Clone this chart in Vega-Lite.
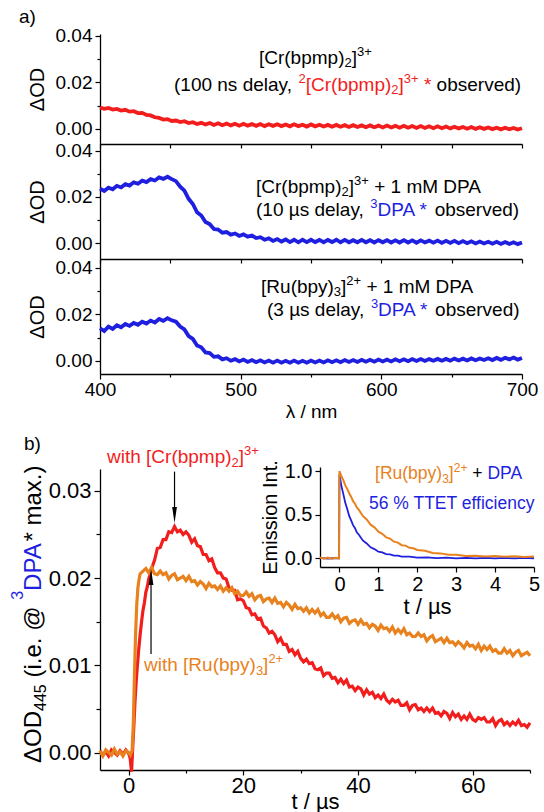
{
"$schema":"https://vega.github.io/schema/vega-lite/v6.json",
"padding":{"left":10,"top":7,"right":0,"bottom":0},
"background":"white",
"config":{"font":"Liberation Sans","view":{"stroke":null},
 "axis":{"grid":false,"domainColor":"#000","tickColor":"#000","labelColor":"#000","titleColor":"#000","domainWidth":1.3,"tickWidth":1.2,"titleFontWeight":"normal","labelFont":"Liberation Sans","titleFont":"Liberation Sans","labelFlush":false,"labelOverlap":false}},
"datasets":{
"a1":[{"x":400,"y":0.0092},{"x":403,"y":0.0086},{"x":406,"y":0.0090},{"x":409,"y":0.0083},{"x":412,"y":0.0086},{"x":415,"y":0.0079},{"x":418,"y":0.0082},{"x":421,"y":0.0074},{"x":424,"y":0.0076},{"x":427,"y":0.0068},{"x":430,"y":0.0069},{"x":433,"y":0.0060},{"x":436,"y":0.0058},{"x":439,"y":0.0050},{"x":442,"y":0.0047},{"x":445,"y":0.0040},{"x":448,"y":0.0042},{"x":451,"y":0.0034},{"x":454,"y":0.0036},{"x":457,"y":0.0029},{"x":460,"y":0.0033},{"x":463,"y":0.0025},{"x":466,"y":0.0029},{"x":469,"y":0.0021},{"x":472,"y":0.0026},{"x":475,"y":0.0019},{"x":478,"y":0.0025},{"x":481,"y":0.0017},{"x":484,"y":0.0024},{"x":487,"y":0.0016},{"x":490,"y":0.0023},{"x":493,"y":0.0015},{"x":496,"y":0.0022},{"x":499,"y":0.0014},{"x":502,"y":0.0022},{"x":505,"y":0.0014},{"x":508,"y":0.0021},{"x":511,"y":0.0013},{"x":514,"y":0.0021},{"x":517,"y":0.0012},{"x":520,"y":0.0020},{"x":523,"y":0.0013},{"x":526,"y":0.0020},{"x":529,"y":0.0012},{"x":532,"y":0.0019},{"x":535,"y":0.0011},{"x":538,"y":0.0020},{"x":541,"y":0.0012},{"x":544,"y":0.0018},{"x":547,"y":0.0010},{"x":550,"y":0.0019},{"x":553,"y":0.0011},{"x":556,"y":0.0018},{"x":559,"y":0.0010},{"x":562,"y":0.0017},{"x":565,"y":0.0009},{"x":568,"y":0.0017},{"x":571,"y":0.0009},{"x":574,"y":0.0016},{"x":577,"y":0.0008},{"x":580,"y":0.0016},{"x":583,"y":0.0008},{"x":586,"y":0.0015},{"x":589,"y":0.0007},{"x":592,"y":0.0015},{"x":595,"y":0.0007},{"x":598,"y":0.0014},{"x":601,"y":0.0006},{"x":604,"y":0.0014},{"x":607,"y":0.0006},{"x":610,"y":0.0013},{"x":613,"y":0.0005},{"x":616,"y":0.0013},{"x":619,"y":0.0005},{"x":622,"y":0.0012},{"x":625,"y":0.0004},{"x":628,"y":0.0012},{"x":631,"y":0.0004},{"x":634,"y":0.0011},{"x":637,"y":0.0003},{"x":640,"y":0.0011},{"x":643,"y":0.0003},{"x":646,"y":0.0010},{"x":649,"y":0.0002},{"x":652,"y":0.0009},{"x":655,"y":0.0002},{"x":658,"y":0.0008},{"x":661,"y":0.0001},{"x":664,"y":0.0008},{"x":667,"y":0.0000},{"x":670,"y":0.0007},{"x":673,"y":0.0000},{"x":676,"y":0.0006},{"x":679,"y":-0.0001},{"x":682,"y":0.0005},{"x":685,"y":-0.0002},{"x":688,"y":0.0005},{"x":691,"y":-0.0002},{"x":694,"y":0.0004},{"x":697,"y":-0.0003},{"x":700,"y":0.0003}],
"a2":[{"x":400,"y":0.0236},{"x":403,"y":0.0226},{"x":406,"y":0.0240},{"x":409,"y":0.0233},{"x":412,"y":0.0248},{"x":415,"y":0.0241},{"x":418,"y":0.0255},{"x":421,"y":0.0249},{"x":424,"y":0.0263},{"x":427,"y":0.0257},{"x":430,"y":0.0270},{"x":433,"y":0.0264},{"x":436,"y":0.0277},{"x":439,"y":0.0271},{"x":442,"y":0.0284},{"x":445,"y":0.0278},{"x":448,"y":0.0287},{"x":451,"y":0.0277},{"x":454,"y":0.0268},{"x":457,"y":0.0244},{"x":460,"y":0.0227},{"x":463,"y":0.0192},{"x":466,"y":0.0170},{"x":469,"y":0.0134},{"x":472,"y":0.0120},{"x":475,"y":0.0092},{"x":478,"y":0.0083},{"x":481,"y":0.0062},{"x":484,"y":0.0060},{"x":487,"y":0.0046},{"x":490,"y":0.0049},{"x":493,"y":0.0038},{"x":496,"y":0.0043},{"x":499,"y":0.0032},{"x":502,"y":0.0039},{"x":505,"y":0.0029},{"x":508,"y":0.0034},{"x":511,"y":0.0023},{"x":514,"y":0.0027},{"x":517,"y":0.0016},{"x":520,"y":0.0022},{"x":523,"y":0.0011},{"x":526,"y":0.0019},{"x":529,"y":0.0008},{"x":532,"y":0.0017},{"x":535,"y":0.0006},{"x":538,"y":0.0016},{"x":541,"y":0.0005},{"x":544,"y":0.0016},{"x":547,"y":0.0006},{"x":550,"y":0.0016},{"x":553,"y":0.0006},{"x":556,"y":0.0015},{"x":559,"y":0.0005},{"x":562,"y":0.0015},{"x":565,"y":0.0006},{"x":568,"y":0.0016},{"x":571,"y":0.0005},{"x":574,"y":0.0015},{"x":577,"y":0.0005},{"x":580,"y":0.0014},{"x":583,"y":0.0005},{"x":586,"y":0.0015},{"x":589,"y":0.0005},{"x":592,"y":0.0014},{"x":595,"y":0.0004},{"x":598,"y":0.0014},{"x":601,"y":0.0005},{"x":604,"y":0.0014},{"x":607,"y":0.0004},{"x":610,"y":0.0013},{"x":613,"y":0.0004},{"x":616,"y":0.0014},{"x":619,"y":0.0004},{"x":622,"y":0.0013},{"x":625,"y":0.0003},{"x":628,"y":0.0013},{"x":631,"y":0.0004},{"x":634,"y":0.0012},{"x":637,"y":0.0003},{"x":640,"y":0.0012},{"x":643,"y":0.0002},{"x":646,"y":0.0011},{"x":649,"y":0.0002},{"x":652,"y":0.0011},{"x":655,"y":0.0001},{"x":658,"y":0.0010},{"x":661,"y":0.0001},{"x":664,"y":0.0009},{"x":667,"y":0.0000},{"x":670,"y":0.0008},{"x":673,"y":0.0000},{"x":676,"y":0.0007},{"x":679,"y":-0.0001},{"x":682,"y":0.0007},{"x":685,"y":-0.0002},{"x":688,"y":0.0006},{"x":691,"y":-0.0002},{"x":694,"y":0.0005},{"x":697,"y":-0.0003},{"x":700,"y":0.0004}],
"a3":[{"x":400,"y":0.0140},{"x":403,"y":0.0128},{"x":406,"y":0.0147},{"x":409,"y":0.0137},{"x":412,"y":0.0153},{"x":415,"y":0.0144},{"x":418,"y":0.0158},{"x":421,"y":0.0150},{"x":424,"y":0.0163},{"x":427,"y":0.0155},{"x":430,"y":0.0168},{"x":433,"y":0.0160},{"x":436,"y":0.0173},{"x":439,"y":0.0165},{"x":442,"y":0.0180},{"x":445,"y":0.0172},{"x":448,"y":0.0183},{"x":451,"y":0.0174},{"x":454,"y":0.0168},{"x":457,"y":0.0147},{"x":460,"y":0.0135},{"x":463,"y":0.0106},{"x":466,"y":0.0094},{"x":469,"y":0.0066},{"x":472,"y":0.0058},{"x":475,"y":0.0036},{"x":478,"y":0.0033},{"x":481,"y":0.0017},{"x":484,"y":0.0019},{"x":487,"y":0.0006},{"x":490,"y":0.0011},{"x":493,"y":0.0000},{"x":496,"y":0.0007},{"x":499,"y":-0.0003},{"x":502,"y":0.0005},{"x":505,"y":-0.0005},{"x":508,"y":0.0003},{"x":511,"y":-0.0006},{"x":514,"y":0.0002},{"x":517,"y":-0.0007},{"x":520,"y":0.0001},{"x":523,"y":-0.0008},{"x":526,"y":0.0001},{"x":529,"y":-0.0008},{"x":532,"y":0.0000},{"x":535,"y":-0.0008},{"x":538,"y":0.0001},{"x":541,"y":-0.0008},{"x":544,"y":0.0000},{"x":547,"y":-0.0008},{"x":550,"y":0.0001},{"x":553,"y":-0.0007},{"x":556,"y":0.0001},{"x":559,"y":-0.0007},{"x":562,"y":0.0002},{"x":565,"y":-0.0006},{"x":568,"y":0.0002},{"x":571,"y":-0.0006},{"x":574,"y":0.0003},{"x":577,"y":-0.0005},{"x":580,"y":0.0003},{"x":583,"y":-0.0005},{"x":586,"y":0.0004},{"x":589,"y":-0.0004},{"x":592,"y":0.0004},{"x":595,"y":-0.0004},{"x":598,"y":0.0005},{"x":601,"y":-0.0003},{"x":604,"y":0.0005},{"x":607,"y":-0.0003},{"x":610,"y":0.0006},{"x":613,"y":-0.0002},{"x":616,"y":0.0006},{"x":619,"y":-0.0002},{"x":622,"y":0.0007},{"x":625,"y":-0.0001},{"x":628,"y":0.0007},{"x":631,"y":-0.0001},{"x":634,"y":0.0007},{"x":637,"y":0.0000},{"x":640,"y":0.0008},{"x":643,"y":0.0000},{"x":646,"y":0.0008},{"x":649,"y":0.0000},{"x":652,"y":0.0009},{"x":655,"y":0.0001},{"x":658,"y":0.0009},{"x":661,"y":0.0001},{"x":664,"y":0.0010},{"x":667,"y":0.0002},{"x":670,"y":0.0010},{"x":673,"y":0.0003},{"x":676,"y":0.0011},{"x":679,"y":0.0003},{"x":682,"y":0.0012},{"x":685,"y":0.0004},{"x":688,"y":0.0013},{"x":691,"y":0.0006},{"x":694,"y":0.0014},{"x":697,"y":0.0005},{"x":700,"y":0.0012}],
"bR":[{"x":-5,"y":0.0002},{"x":-4.5,"y":-0.0003},{"x":-4,"y":0.0001},{"x":-3.5,"y":-0.0004},{"x":-3,"y":0.0003},{"x":-2.5,"y":0.0000},{"x":-2,"y":-0.0003},{"x":-1.5,"y":0.0002},{"x":-1,"y":-0.0002},{"x":-0.5,"y":0.0003},{"x":0,"y":-0.0001},{"x":0.25,"y":-0.0006},{"x":0.5,"y":-0.0022},{"x":0.7,"y":0.0005},{"x":0.9,"y":0.0030},{"x":1.1,"y":0.0058},{"x":1.3,"y":0.0080},{"x":1.5,"y":0.0098},{"x":1.75,"y":0.0118},{"x":2,"y":0.0135},{"x":2.25,"y":0.0150},{"x":2.5,"y":0.0163},{"x":2.75,"y":0.0172},{"x":3,"y":0.0184},{"x":3.25,"y":0.0190},{"x":3.5,"y":0.0199},{"x":3.75,"y":0.0204},{"x":4,"y":0.0211},{"x":4.5,"y":0.0220},
{"x":5.0,"y":0.0234},{"x":5.5,"y":0.0235},{"x":6.0,"y":0.0244},{"x":6.5,"y":0.0244},{"x":7.0,"y":0.0253},{"x":7.5,"y":0.0252},{"x":8.0,"y":0.0259},{"x":8.5,"y":0.0253},{"x":9.0,"y":0.0255},{"x":9.5,"y":0.0250},{"x":10.0,"y":0.0253},{"x":10.5,"y":0.0249},{"x":11.0,"y":0.0241},{"x":11.5,"y":0.0245},{"x":12.0,"y":0.0237},{"x":12.5,"y":0.0236},{"x":13.0,"y":0.0227},{"x":13.5,"y":0.0227},{"x":14.0,"y":0.0220},{"x":14.5,"y":0.0222},{"x":15.0,"y":0.0212},{"x":15.5,"y":0.0206},{"x":16.0,"y":0.0206},{"x":16.5,"y":0.0200},{"x":17.0,"y":0.0199},{"x":17.5,"y":0.0189},{"x":18.0,"y":0.0186},{"x":18.5,"y":0.0186},{"x":19.0,"y":0.0175},{"x":19.5,"y":0.0176},{"x":20.0,"y":0.0174},{"x":20.5,"y":0.0166},{"x":21.0,"y":0.0165},{"x":21.5,"y":0.0158},{"x":22.0,"y":0.0159},{"x":22.5,"y":0.0153},{"x":23.0,"y":0.0154},{"x":23.5,"y":0.0145},{"x":24.0,"y":0.0143},{"x":24.5,"y":0.0137},{"x":25.0,"y":0.0139},{"x":25.5,"y":0.0135},{"x":26.0,"y":0.0127},{"x":26.5,"y":0.0131},{"x":27.0,"y":0.0124},{"x":27.5,"y":0.0124},{"x":28.0,"y":0.0116},{"x":28.5,"y":0.0118},{"x":29.0,"y":0.0112},{"x":29.5,"y":0.0116},{"x":30.0,"y":0.0108},{"x":30.5,"y":0.0104},{"x":31.0,"y":0.0107},{"x":31.5,"y":0.0102},{"x":32.0,"y":0.0103},{"x":32.5,"y":0.0096},{"x":33.0,"y":0.0095},{"x":33.5,"y":0.0097},{"x":34.0,"y":0.0088},{"x":34.5,"y":0.0091},{"x":35.0,"y":0.0091},{"x":35.5,"y":0.0085},{"x":36.0,"y":0.0086},{"x":36.5,"y":0.0080},{"x":37.0,"y":0.0084},{"x":37.5,"y":0.0079},{"x":38.0,"y":0.0083},{"x":38.5,"y":0.0075},{"x":39.0,"y":0.0076},{"x":39.5,"y":0.0071},{"x":40.0,"y":0.0075},{"x":40.5,"y":0.0073},{"x":41.0,"y":0.0066},{"x":41.5,"y":0.0072},{"x":42.0,"y":0.0067},{"x":42.5,"y":0.0069},{"x":43.0,"y":0.0063},{"x":43.5,"y":0.0066},{"x":44.0,"y":0.0062},{"x":44.5,"y":0.0067},{"x":45.0,"y":0.0060},{"x":45.5,"y":0.0057},{"x":46.0,"y":0.0061},{"x":46.5,"y":0.0058},{"x":47.0,"y":0.0060},{"x":47.5,"y":0.0054},{"x":48.0,"y":0.0054},{"x":48.5,"y":0.0057},{"x":49.0,"y":0.0049},{"x":49.5,"y":0.0054},{"x":50.0,"y":0.0055},{"x":50.5,"y":0.0049},{"x":51.0,"y":0.0051},{"x":51.5,"y":0.0047},{"x":52.0,"y":0.0051},{"x":52.5,"y":0.0047},{"x":53.0,"y":0.0051},{"x":53.5,"y":0.0045},{"x":54.0,"y":0.0046},{"x":54.5,"y":0.0042},{"x":55.0,"y":0.0047},{"x":55.5,"y":0.0045},{"x":56.0,"y":0.0039},{"x":56.5,"y":0.0046},{"x":57.0,"y":0.0041},{"x":57.5,"y":0.0044},{"x":58.0,"y":0.0038},{"x":58.5,"y":0.0042},{"x":59.0,"y":0.0038},{"x":59.5,"y":0.0044},{"x":60.0,"y":0.0038},{"x":60.5,"y":0.0036},{"x":61.0,"y":0.0040},{"x":61.5,"y":0.0038},{"x":62.0,"y":0.0040},{"x":62.5,"y":0.0035},{"x":63.0,"y":0.0035},{"x":63.5,"y":0.0039},{"x":64.0,"y":0.0031},{"x":64.5,"y":0.0036},{"x":65.0,"y":0.0038},{"x":65.5,"y":0.0032},{"x":66.0,"y":0.0035},{"x":66.5,"y":0.0031},{"x":67.0,"y":0.0035},{"x":67.5,"y":0.0032},{"x":68.0,"y":0.0037},{"x":68.5,"y":0.0031},{"x":69.0,"y":0.0032},{"x":69.5,"y":0.0029},{"x":70.0,"y":0.0034}],
"bO":[{"x":-5,"y":0.0002},{"x":-4.5,"y":-0.0004},{"x":-4,"y":0.0003},{"x":-3.5,"y":0.0000},{"x":-3,"y":-0.0003},{"x":-2.5,"y":0.0004},{"x":-2,"y":-0.0002},{"x":-1.5,"y":0.0001},{"x":-1,"y":-0.0004},{"x":-0.5,"y":0.0002},{"x":0,"y":0.0000},{"x":0.3,"y":-0.0003},{"x":0.6,"y":0.0002},{"x":0.8,"y":0.0030},{"x":1.0,"y":0.0085},{"x":1.2,"y":0.0135},{"x":1.4,"y":0.0168},{"x":1.6,"y":0.0188},{"x":1.8,"y":0.0198},{"x":2.0,"y":0.0205},{"x":2.5,"y":0.0208},{"x":3,"y":0.0211},{"x":3.5,"y":0.0206},{"x":4,"y":0.0212},{"x":4.5,"y":0.0205},
{"x":5.0,"y":0.0204},{"x":5.5,"y":0.0208},{"x":6.0,"y":0.0204},{"x":6.5,"y":0.0206},{"x":7.0,"y":0.0199},{"x":7.5,"y":0.0203},{"x":8.0,"y":0.0205},{"x":8.5,"y":0.0198},{"x":9.0,"y":0.0200},{"x":9.5,"y":0.0202},{"x":10.0,"y":0.0197},{"x":10.5,"y":0.0202},{"x":11.0,"y":0.0196},{"x":11.5,"y":0.0197},{"x":12.0,"y":0.0192},{"x":12.5,"y":0.0196},{"x":13.0,"y":0.0193},{"x":13.5,"y":0.0188},{"x":14.0,"y":0.0194},{"x":14.5,"y":0.0190},{"x":15.0,"y":0.0191},{"x":15.5,"y":0.0187},{"x":16.0,"y":0.0191},{"x":16.5,"y":0.0185},{"x":17.0,"y":0.0189},{"x":17.5,"y":0.0185},{"x":18.0,"y":0.0189},{"x":18.5,"y":0.0182},{"x":19.0,"y":0.0185},{"x":19.5,"y":0.0180},{"x":20.0,"y":0.0180},{"x":20.5,"y":0.0184},{"x":21.0,"y":0.0179},{"x":21.5,"y":0.0182},{"x":22.0,"y":0.0175},{"x":22.5,"y":0.0179},{"x":23.0,"y":0.0180},{"x":23.5,"y":0.0173},{"x":24.0,"y":0.0176},{"x":24.5,"y":0.0177},{"x":25.0,"y":0.0172},{"x":25.5,"y":0.0177},{"x":26.0,"y":0.0171},{"x":26.5,"y":0.0172},{"x":27.0,"y":0.0167},{"x":27.5,"y":0.0172},{"x":28.0,"y":0.0169},{"x":28.5,"y":0.0164},{"x":29.0,"y":0.0170},{"x":29.5,"y":0.0165},{"x":30.0,"y":0.0166},{"x":30.5,"y":0.0162},{"x":31.0,"y":0.0166},{"x":31.5,"y":0.0160},{"x":32.0,"y":0.0164},{"x":32.5,"y":0.0160},{"x":33.0,"y":0.0164},{"x":33.5,"y":0.0157},{"x":34.0,"y":0.0160},{"x":34.5,"y":0.0155},{"x":35.0,"y":0.0155},{"x":35.5,"y":0.0159},{"x":36.0,"y":0.0154},{"x":36.5,"y":0.0157},{"x":37.0,"y":0.0150},{"x":37.5,"y":0.0154},{"x":38.0,"y":0.0155},{"x":38.5,"y":0.0148},{"x":39.0,"y":0.0151},{"x":39.5,"y":0.0152},{"x":40.0,"y":0.0147},{"x":40.5,"y":0.0152},{"x":41.0,"y":0.0147},{"x":41.5,"y":0.0148},{"x":42.0,"y":0.0143},{"x":42.5,"y":0.0147},{"x":43.0,"y":0.0145},{"x":43.5,"y":0.0140},{"x":44.0,"y":0.0146},{"x":44.5,"y":0.0142},{"x":45.0,"y":0.0143},{"x":45.5,"y":0.0139},{"x":46.0,"y":0.0144},{"x":46.5,"y":0.0137},{"x":47.0,"y":0.0141},{"x":47.5,"y":0.0137},{"x":48.0,"y":0.0142},{"x":48.5,"y":0.0135},{"x":49.0,"y":0.0137},{"x":49.5,"y":0.0133},{"x":50.0,"y":0.0133},{"x":50.5,"y":0.0137},{"x":51.0,"y":0.0133},{"x":51.5,"y":0.0135},{"x":52.0,"y":0.0128},{"x":52.5,"y":0.0132},{"x":53.0,"y":0.0134},{"x":53.5,"y":0.0127},{"x":54.0,"y":0.0129},{"x":54.5,"y":0.0131},{"x":55.0,"y":0.0126},{"x":55.5,"y":0.0131},{"x":56.0,"y":0.0126},{"x":56.5,"y":0.0127},{"x":57.0,"y":0.0123},{"x":57.5,"y":0.0127},{"x":58.0,"y":0.0124},{"x":58.5,"y":0.0120},{"x":59.0,"y":0.0126},{"x":59.5,"y":0.0122},{"x":60.0,"y":0.0123},{"x":60.5,"y":0.0119},{"x":61.0,"y":0.0124},{"x":61.5,"y":0.0117},{"x":62.0,"y":0.0122},{"x":62.5,"y":0.0118},{"x":63.0,"y":0.0122},{"x":63.5,"y":0.0116},{"x":64.0,"y":0.0118},{"x":64.5,"y":0.0114},{"x":65.0,"y":0.0114},{"x":65.5,"y":0.0119},{"x":66.0,"y":0.0114},{"x":66.5,"y":0.0117},{"x":67.0,"y":0.0111},{"x":67.5,"y":0.0115},{"x":68.0,"y":0.0117},{"x":68.5,"y":0.0111},{"x":69.0,"y":0.0113},{"x":69.5,"y":0.0115},{"x":70.0,"y":0.0111}],
"iO":[{"x":-0.5,"y":0.008},{"x":-0.4,"y":-0.006},{"x":-0.3,"y":0.007},{"x":-0.2,"y":-0.005},{"x":-0.1,"y":0.006},{"x":-0.01,"y":0.0},{"x":0,"y":1.0},{"x":0.05,"y":0.94},{"x":0.1,"y":0.895},{"x":0.15,"y":0.835},{"x":0.2,"y":0.795},{"x":0.25,"y":0.745},{"x":0.3,"y":0.705},{"x":0.35,"y":0.655},{"x":0.4,"y":0.625},{"x":0.45,"y":0.58},{"x":0.5,"y":0.555},{"x":0.6,"y":0.485},{"x":0.7,"y":0.445},{"x":0.8,"y":0.385},{"x":0.9,"y":0.355},{"x":1.0,"y":0.305},{"x":1.1,"y":0.28},{"x":1.2,"y":0.24},{"x":1.3,"y":0.225},{"x":1.4,"y":0.19},{"x":1.5,"y":0.18},{"x":1.6,"y":0.15},{"x":1.7,"y":0.145},{"x":1.8,"y":0.12},{"x":1.9,"y":0.115},{"x":2.0,"y":0.095},{"x":2.2,"y":0.085},{"x":2.4,"y":0.06},{"x":2.6,"y":0.056},{"x":2.8,"y":0.04},{"x":3.0,"y":0.04},{"x":3.25,"y":0.027},{"x":3.5,"y":0.03},{"x":3.75,"y":0.02},{"x":4.0,"y":0.025},{"x":4.25,"y":0.017},{"x":4.5,"y":0.023},{"x":4.75,"y":0.016},{"x":5.0,"y":0.021}],
"iB":[{"x":-0.5,"y":0.004},{"x":-0.3,"y":-0.004},{"x":-0.1,"y":0.003},{"x":-0.01,"y":0.0},{"x":0,"y":0.96},{"x":0.05,"y":0.83},{"x":0.1,"y":0.735},{"x":0.15,"y":0.635},{"x":0.2,"y":0.565},{"x":0.25,"y":0.485},{"x":0.3,"y":0.435},{"x":0.35,"y":0.38},{"x":0.4,"y":0.345},{"x":0.45,"y":0.295},{"x":0.5,"y":0.27},{"x":0.6,"y":0.205},{"x":0.7,"y":0.17},{"x":0.8,"y":0.125},{"x":0.9,"y":0.105},{"x":1.0,"y":0.075},{"x":1.1,"y":0.068},{"x":1.2,"y":0.048},{"x":1.3,"y":0.044},{"x":1.4,"y":0.03},{"x":1.5,"y":0.03},{"x":1.6,"y":0.018},{"x":1.8,"y":0.02},{"x":2.0,"y":0.008},{"x":2.25,"y":0.011},{"x":2.5,"y":0.002},{"x":2.75,"y":0.007},{"x":3.0,"y":-0.001},{"x":3.25,"y":0.005},{"x":3.5,"y":-0.002},{"x":3.75,"y":0.004},{"x":4.0,"y":-0.002},{"x":4.25,"y":0.004},{"x":4.5,"y":-0.001},{"x":4.75,"y":0.004},{"x":5.0,"y":0.0}],
"tA1":[{"t":"a)","x":342.4,"y":0.0456,"k":"n","c":"k"},
 {"t":"[Cr(bpmp)","x":513.0,"y":0.02774,"k":"n","c":"k"},{"t":"2","x":573.8,"y":0.02774,"k":"sub","c":"k"},{"t":"]","x":578.9,"y":0.02774,"k":"n","c":"k"},{"t":"3+","x":582.7,"y":0.02774,"k":"sup","c":"k"},
 {"t":"(100 ns delay,","x":452.6,"y":0.01634,"k":"n","c":"k"},{"t":"2","x":541.2,"y":0.01634,"k":"sup","c":"r"},{"t":"[Cr(bpmp)","x":546.3,"y":0.01634,"k":"n","c":"r"},{"t":"2","x":607.1,"y":0.01634,"k":"sub","c":"r"},{"t":"]","x":612.2,"y":0.01634,"k":"n","c":"r"},{"t":"3+","x":616.0,"y":0.01634,"k":"sup","c":"r"},{"t":"*","x":630.3,"y":0.01634,"k":"n","c":"r"},{"t":"observed)","x":639.3,"y":0.01634,"k":"n","c":"k"}],
"tA2":[{"t":"[Cr(bpmp)","x":510.9,"y":0.02172,"k":"n","c":"k"},{"t":"2","x":571.7,"y":0.02172,"k":"sub","c":"k"},{"t":"]","x":576.8,"y":0.02172,"k":"n","c":"k"},{"t":"3+","x":580.6,"y":0.02172,"k":"sup","c":"k"},{"t":"+ 1 mM DPA","x":594.9,"y":0.02172,"k":"n","c":"k"},
 {"t":"(10 µs delay,","x":510.9,"y":0.01183,"k":"n","c":"k"},{"t":"3","x":592.2,"y":0.01183,"k":"sup","c":"b"},{"t":"DPA *","x":597.3,"y":0.01183,"k":"n","c":"b"},{"t":"observed)","x":637.9,"y":0.01183,"k":"n","c":"k"}],
"tA3":[{"t":"[Ru(bpy)","x":514.5,"y":0.02916,"k":"n","c":"k"},{"t":"3","x":566.2,"y":0.02916,"k":"sub","c":"k"},{"t":"]","x":571.3,"y":0.02916,"k":"n","c":"k"},{"t":"2+","x":575.1,"y":0.02916,"k":"sup","c":"k"},{"t":"+ 1 mM DPA","x":589.4,"y":0.02916,"k":"n","c":"k"},
 {"t":"(3 µs delay,","x":518.7,"y":0.01927,"k":"n","c":"k"},{"t":"3","x":592.6,"y":0.01927,"k":"sup","c":"b"},{"t":"DPA *","x":597.7,"y":0.01927,"k":"n","c":"b"},{"t":"observed)","x":638.2,"y":0.01927,"k":"n","c":"k"}],
"tB":[{"t":"b)","x":-18.26,"y":0.0347,"k":"n","c":"k"},
 {"t":"with [Cr(bpmp)","x":-3.78,"y":0.03321,"k":"n","c":"r"},{"t":"2","x":17.95,"y":0.03321,"k":"sub","c":"r"},{"t":"]","x":19.21,"y":0.03321,"k":"n","c":"r"},{"t":"3+","x":20.13,"y":0.03321,"k":"sup","c":"r"},
 {"t":"with [Ru(bpy)","x":2.675,"y":0.00935,"k":"n","c":"o"},{"t":"3","x":22.19,"y":0.00935,"k":"sub","c":"o"},{"t":"]","x":23.45,"y":0.00935,"k":"n","c":"o"},{"t":"2+","x":24.37,"y":0.00935,"k":"sup","c":"o"}],
"tBy":[{"t":"ΔOD","x":-15.29,"y":-0.0012,"k":"n","c":"k"},{"t":"445","x":-15.29,"y":0.00477,"k":"sub","c":"k"},{"t":"(i.e. @","x":-15.29,"y":0.0086,"k":"n","c":"k"},{"t":"3","x":-15.29,"y":0.01751,"k":"sup","c":"b"},{"t":"DPA","x":-15.29,"y":0.01853,"k":"n","c":"b"},{"t":"*","x":-15.29,"y":0.02418,"k":"n","c":"k"},{"t":"max.)","x":-15.29,"y":0.02602,"k":"n","c":"k"}],
"tI":[{"t":"[Ru(bpy)","x":0.914,"y":0.908,"k":"n","c":"o"},{"t":"3","x":2.639,"y":0.908,"k":"sub","c":"o"},{"t":"]","x":2.811,"y":0.908,"k":"n","c":"o"},{"t":"2+","x":2.937,"y":0.908,"k":"sup","c":"o"},{"t":"+","x":3.415,"y":0.908,"k":"n","c":"k"},{"t":"DPA","x":3.803,"y":0.908,"k":"n","c":"b"},
 {"t":"56 % TTET efficiency","x":0.76,"y":0.563,"k":"n","c":"b"}],
"arr":[{"x":8,"y":0.0322,"y2":0.0275,"hy":0.02724,"dir":"down"},{"x":3.9,"y":0.0113,"y2":0.0198,"hy":0.02013,"dir":"up"}]
},
"spacing":0,
"bounds":"flush",
"vconcat":[
{"width":422,"height":110,"data":{"name":"a1"},
 "encoding":{"x":{"field":"x","type":"quantitative","scale":{"domain":[400,700],"nice":false,"zero":false},"axis":{"values":[400,450,500,550,600,650,700],"labels":false,"title":null,"tickSize":4}},
  "y":{"field":"y","type":"quantitative","scale":{"domain":[-0.0065,0.0408],"nice":false,"zero":false},"axis":{"values":[0,0.01,0.02,0.03,0.04],"format":".2f","labelExpr":"datum.value == 0.01 || datum.value == 0.03 ? '' : datum.label","labelFontSize":19,"tickSize":{"condition":{"test":"datum.value == 0.01 || datum.value == 0.03","value":3},"value":5},"labelPadding":3,"title":"ΔOD","titleFontSize":20,"titlePadding":8}}},
 "layer":[
  {"mark":{"type":"line","color":"#f21d1d","strokeWidth":3.8}},
  {"data":{"values":[{}]},"mark":{"type":"rule","color":"#000","strokeDash":[5,4],"strokeWidth":1.5},"encoding":{"x":{"datum":400},"x2":{"datum":700},"y":{"datum":0}}},
  {"data":{"values":[{}]},"mark":{"type":"rule","color":"#000","strokeWidth":1.3},"encoding":{"x":{"datum":445},"y":{"datum":-0.0065},"y2":{"datum":0.0378}}},
  {"data":{"name":"tA1"},"transform":[{"filter":"datum.k=='n'"}],"mark":{"type":"text","align":"left","baseline":"alphabetic","fontSize":19},"encoding":{"text":{"field":"t"},"color":{"field":"c","type":"nominal","scale":{"domain":["k","r","b","o"],"range":["#000000","#f21d1d","#1f1fe0","#e8821e"]},"legend":null}}},
  {"data":{"name":"tA1"},"transform":[{"filter":"datum.k=='sub'"}],"mark":{"type":"text","align":"left","baseline":"alphabetic","fontSize":13,"dy":3},"encoding":{"text":{"field":"t"},"color":{"field":"c","type":"nominal","scale":{"domain":["k","r","b","o"],"range":["#000000","#f21d1d","#1f1fe0","#e8821e"]},"legend":null}}},
  {"data":{"name":"tA1"},"transform":[{"filter":"datum.k=='sup'"}],"mark":{"type":"text","align":"left","baseline":"alphabetic","fontSize":13,"dy":-8},"encoding":{"text":{"field":"t"},"color":{"field":"c","type":"nominal","scale":{"domain":["k","r","b","o"],"range":["#000000","#f21d1d","#1f1fe0","#e8821e"]},"legend":null}}}
 ]},
{"width":422,"height":115,"data":{"name":"a2"},
 "encoding":{"x":{"field":"x","type":"quantitative","scale":{"domain":[400,700],"nice":false,"zero":false},"axis":{"values":[400,450,500,550,600,650,700],"labels":false,"title":null,"tickSize":4}},
  "y":{"field":"y","type":"quantitative","scale":{"domain":[-0.0067,0.0428],"nice":false,"zero":false},"axis":{"values":[0,0.01,0.02,0.03,0.04],"format":".2f","labelExpr":"datum.value == 0.01 || datum.value == 0.03 ? '' : datum.label","labelFontSize":19,"tickSize":{"condition":{"test":"datum.value == 0.01 || datum.value == 0.03","value":3},"value":5},"labelPadding":3,"title":"ΔOD","titleFontSize":20,"titlePadding":8}}},
 "layer":[
  {"mark":{"type":"line","color":"#1f1fe0","strokeWidth":3.8}},
  {"data":{"values":[{}]},"mark":{"type":"rule","color":"#000","strokeDash":[5,4],"strokeWidth":1.5},"encoding":{"x":{"datum":400},"x2":{"datum":700},"y":{"datum":0}}},
  {"data":{"values":[{}]},"mark":{"type":"rule","color":"#000","strokeWidth":1.3},"encoding":{"x":{"datum":445},"y":{"datum":-0.0067},"y2":{"datum":0.0428}}},
  {"data":{"name":"tA2"},"transform":[{"filter":"datum.k=='n'"}],"mark":{"type":"text","align":"left","baseline":"alphabetic","fontSize":19},"encoding":{"text":{"field":"t"},"color":{"field":"c","type":"nominal","scale":{"domain":["k","r","b","o"],"range":["#000000","#f21d1d","#1f1fe0","#e8821e"]},"legend":null}}},
  {"data":{"name":"tA2"},"transform":[{"filter":"datum.k=='sub'"}],"mark":{"type":"text","align":"left","baseline":"alphabetic","fontSize":13,"dy":3},"encoding":{"text":{"field":"t"},"color":{"field":"c","type":"nominal","scale":{"domain":["k","r","b","o"],"range":["#000000","#f21d1d","#1f1fe0","#e8821e"]},"legend":null}}},
  {"data":{"name":"tA2"},"transform":[{"filter":"datum.k=='sup'"}],"mark":{"type":"text","align":"left","baseline":"alphabetic","fontSize":13,"dy":-8},"encoding":{"text":{"field":"t"},"color":{"field":"c","type":"nominal","scale":{"domain":["k","r","b","o"],"range":["#000000","#f21d1d","#1f1fe0","#e8821e"]},"legend":null}}}
 ]},
{"width":422,"height":115,"data":{"name":"a3"},
 "encoding":{"x":{"field":"x","type":"quantitative","scale":{"domain":[400,700],"nice":false,"zero":false},"axis":{"values":[400,450,500,550,600,650,700],"format":"d","labelExpr":"datum.value % 100 == 0 ? datum.label : ''","labelFontSize":19,"tickSize":{"condition":{"test":"datum.value % 100 == 0","value":5},"value":3},"labelPadding":1,"title":"λ / nm","titleFontSize":19,"titlePadding":3}},
  "y":{"field":"y","type":"quantitative","scale":{"domain":[-0.0057,0.0438],"nice":false,"zero":false},"axis":{"values":[0,0.01,0.02,0.03,0.04],"format":".2f","labelExpr":"datum.value == 0.01 || datum.value == 0.03 ? '' : datum.label","labelFontSize":19,"tickSize":{"condition":{"test":"datum.value == 0.01 || datum.value == 0.03","value":3},"value":5},"labelPadding":3,"title":"ΔOD","titleFontSize":20,"titlePadding":8}}},
 "layer":[
  {"mark":{"type":"line","color":"#1f1fe0","strokeWidth":3.8}},
  {"data":{"values":[{}]},"mark":{"type":"rule","color":"#000","strokeDash":[5,4],"strokeWidth":1.5},"encoding":{"x":{"datum":400},"x2":{"datum":700},"y":{"datum":0}}},
  {"data":{"values":[{}]},"mark":{"type":"rule","color":"#000","strokeWidth":1.3},"encoding":{"x":{"datum":445},"y":{"datum":-0.0057},"y2":{"datum":0.0438}}},
  {"data":{"name":"tA3"},"transform":[{"filter":"datum.k=='n'"}],"mark":{"type":"text","align":"left","baseline":"alphabetic","fontSize":19},"encoding":{"text":{"field":"t"},"color":{"field":"c","type":"nominal","scale":{"domain":["k","r","b","o"],"range":["#000000","#f21d1d","#1f1fe0","#e8821e"]},"legend":null}}},
  {"data":{"name":"tA3"},"transform":[{"filter":"datum.k=='sub'"}],"mark":{"type":"text","align":"left","baseline":"alphabetic","fontSize":13,"dy":3},"encoding":{"text":{"field":"t"},"color":{"field":"c","type":"nominal","scale":{"domain":["k","r","b","o"],"range":["#000000","#f21d1d","#1f1fe0","#e8821e"]},"legend":null}}},
  {"data":{"name":"tA3"},"transform":[{"filter":"datum.k=='sup'"}],"mark":{"type":"text","align":"left","baseline":"alphabetic","fontSize":13,"dy":-8},"encoding":{"text":{"field":"t"},"color":{"field":"c","type":"nominal","scale":{"domain":["k","r","b","o"],"range":["#000000","#f21d1d","#1f1fe0","#e8821e"]},"legend":null}}}
 ]},
{"width":430,"height":396,
 "layer":[
  {"data":{"name":"bR"},
   "encoding":{"x":{"field":"x","type":"quantitative","scale":{"domain":[-5,70],"nice":false,"zero":false},"axis":{"values":[0,10,20,30,40,50,60,70],"labelExpr":"datum.value % 20 == 0 ? datum.label : ''","labelFontSize":22,"tickSize":{"condition":{"test":"datum.value % 20 == 0","value":5},"value":3},"labelPadding":0,"title":"t / µs","titleFontSize":22,"titlePadding":-5}},
    "y":{"field":"y","type":"quantitative","scale":{"domain":[-0.002,0.0325],"range":[396,95],"nice":false,"zero":false},"axis":{"values":[0,0.005,0.01,0.015,0.02,0.025,0.03],"format":".2f","labelExpr":"(datum.value == 0.005 || datum.value == 0.015 || datum.value == 0.025) ? '' : datum.label","labelFontSize":22,"tickSize":{"condition":{"test":"datum.value == 0.005 || datum.value == 0.015 || datum.value == 0.025","value":4},"value":6},"labelPadding":3,"title":null}}},
   "layer":[
    {"mark":{"type":"line","color":"#f21d1d","strokeWidth":3.2}},
    {"data":{"name":"bO"},"mark":{"type":"line","color":"#e8821e","strokeWidth":3.2}},
    {"data":{"name":"arr"},"mark":{"type":"rule","color":"#000","strokeWidth":1.2},"encoding":{"y2":{"field":"y2"}}},
    {"data":{"name":"arr"},"mark":{"type":"point","filled":true,"color":"#000","size":256,"opacity":1},"encoding":{"y":{"field":"hy","type":"quantitative"},"shape":{"field":"dir","type":"nominal","scale":{"domain":["down","up"],"range":["M -0.3 -1 L 0.3 -1 L 0 1 Z","M -0.3 1 L 0.3 1 L 0 -1 Z"]},"legend":null}}},
    {"data":{"name":"tB"},"transform":[{"filter":"datum.k=='n'"}],"mark":{"type":"text","align":"left","baseline":"alphabetic","fontSize":19},"encoding":{"text":{"field":"t"},"color":{"field":"c","type":"nominal","scale":{"domain":["k","r","b","o"],"range":["#000000","#f21d1d","#1f1fe0","#e8821e"]},"legend":null}}},
    {"data":{"name":"tB"},"transform":[{"filter":"datum.k=='sub'"}],"mark":{"type":"text","align":"left","baseline":"alphabetic","fontSize":13,"dy":4},"encoding":{"text":{"field":"t"},"color":{"field":"c","type":"nominal","scale":{"domain":["k","r","b","o"],"range":["#000000","#f21d1d","#1f1fe0","#e8821e"]},"legend":null}}},
    {"data":{"name":"tB"},"transform":[{"filter":"datum.k=='sup'"}],"mark":{"type":"text","align":"left","baseline":"alphabetic","fontSize":13,"dy":-8},"encoding":{"text":{"field":"t"},"color":{"field":"c","type":"nominal","scale":{"domain":["k","r","b","o"],"range":["#000000","#f21d1d","#1f1fe0","#e8821e"]},"legend":null}}},
    {"data":{"name":"tBy"},"transform":[{"filter":"datum.k=='n'"}],"mark":{"type":"text","align":"left","baseline":"alphabetic","fontSize":24,"angle":270},"encoding":{"text":{"field":"t"},"color":{"field":"c","type":"nominal","scale":{"domain":["k","r","b","o"],"range":["#000000","#f21d1d","#1f1fe0","#e8821e"]},"legend":null}}},
    {"data":{"name":"tBy"},"transform":[{"filter":"datum.k=='sub'"}],"mark":{"type":"text","align":"left","baseline":"alphabetic","fontSize":16,"angle":270,"dy":5},"encoding":{"text":{"field":"t"},"color":{"field":"c","type":"nominal","scale":{"domain":["k","r","b","o"],"range":["#000000","#f21d1d","#1f1fe0","#e8821e"]},"legend":null}}},
    {"data":{"name":"tBy"},"transform":[{"filter":"datum.k=='sup'"}],"mark":{"type":"text","align":"left","baseline":"alphabetic","fontSize":16,"angle":270,"dy":-18},"encoding":{"text":{"field":"t"},"color":{"field":"c","type":"nominal","scale":{"domain":["k","r","b","o"],"range":["#000000","#f21d1d","#1f1fe0","#e8821e"]},"legend":null}}}
   ]},
  {"data":{"name":"iB"},
   "encoding":{"x":{"field":"x","type":"quantitative","scale":{"domain":[-0.5,5],"range":[220,434],"nice":false,"zero":false},"axis":{"orient":"bottom","offset":-203,"values":[0,1,2,3,4,5],"format":"d","labelFontSize":20,"tickSize":5,"labelPadding":2,"title":"t / µs","titleFontSize":22,"titlePadding":2}},
    "y":{"field":"y","type":"quantitative","scale":{"domain":[-0.1,1.046],"range":[193,93],"nice":false,"zero":false},"axis":{"orient":"left","offset":-220,"values":[0,0.5,1],"format":".1f","labelFontSize":20,"tickSize":5,"labelPadding":3,"title":"Emission Int.","titleFontSize":20,"titlePadding":4}}},
   "layer":[
    {"mark":{"type":"line","color":"#1f1fe0","strokeWidth":1.8}},
    {"data":{"name":"iO"},"mark":{"type":"line","color":"#e8821e","strokeWidth":2}},
    {"data":{"name":"tI"},"transform":[{"filter":"datum.k=='n'"}],"mark":{"type":"text","align":"left","baseline":"alphabetic","fontSize":17.5},"encoding":{"text":{"field":"t"},"color":{"field":"c","type":"nominal","scale":{"domain":["k","r","b","o"],"range":["#000000","#f21d1d","#1f1fe0","#e8821e"]},"legend":null}}},
    {"data":{"name":"tI"},"transform":[{"filter":"datum.k=='sub'"}],"mark":{"type":"text","align":"left","baseline":"alphabetic","fontSize":12,"dy":4},"encoding":{"text":{"field":"t"},"color":{"field":"c","type":"nominal","scale":{"domain":["k","r","b","o"],"range":["#000000","#f21d1d","#1f1fe0","#e8821e"]},"legend":null}}},
    {"data":{"name":"tI"},"transform":[{"filter":"datum.k=='sup'"}],"mark":{"type":"text","align":"left","baseline":"alphabetic","fontSize":12,"dy":-7},"encoding":{"text":{"field":"t"},"color":{"field":"c","type":"nominal","scale":{"domain":["k","r","b","o"],"range":["#000000","#f21d1d","#1f1fe0","#e8821e"]},"legend":null}}}
   ]}
 ],
 "resolve":{"scale":{"x":"independent","y":"independent"},"axis":{"x":"independent","y":"independent"}}}
]
}
